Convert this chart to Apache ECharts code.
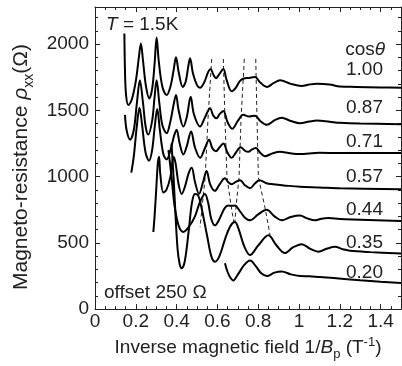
<!DOCTYPE html>
<html>
<head>
<meta charset="utf-8">
<script src="https://cdn.jsdelivr.net/npm/echarts@6/dist/echarts.min.js"></script>
<style>
  html, body { margin: 0; padding: 0; background: #fff; }
  #chart { width: 402px; height: 366px; }
</style>
</head>
<body>
<div id="chart"></div>
<script>
// curves: [1/B (T^-1), rho_xx (ohm)], already offset by 250 ohm steps
const cos100 = [[0.144,2080],[0.147,1800],[0.152,1620],[0.163,1540],[0.18,1580],[0.2,1720],[0.215,1900],[0.225,2005],[0.235,1880],[0.25,1680],[0.266,1590],[0.28,1660],[0.292,1850],[0.302,2050],[0.312,1880],[0.33,1680],[0.351,1615],[0.37,1680],[0.385,1800],[0.397,1900],[0.41,1790],[0.43,1677],[0.445,1720],[0.457,1830],[0.466,1893],[0.48,1780],[0.5,1690],[0.515,1670],[0.535,1710],[0.555,1790],[0.567,1813],[0.58,1770],[0.593,1743],[0.61,1775],[0.629,1813],[0.645,1730],[0.67,1644],[0.69,1670],[0.71,1720],[0.727,1739],[0.756,1745],[0.784,1751],[0.81,1710],[0.842,1677],[0.875,1705],[0.907,1728],[0.96,1700],[1.013,1684],[1.05,1695],[1.087,1701],[1.15,1695],[1.2,1680],[1.28,1677],[1.4,1673],[1.5,1670]];
const cos087 = [[0.147,1466],[0.155,1350],[0.172,1279],[0.19,1350],[0.205,1550],[0.22,1727],[0.235,1560],[0.248,1380],[0.261,1317],[0.28,1420],[0.292,1600],[0.302,1727],[0.315,1560],[0.33,1390],[0.351,1328],[0.37,1420],[0.385,1540],[0.397,1615],[0.41,1500],[0.433,1378],[0.45,1450],[0.469,1602],[0.485,1470],[0.515,1378],[0.54,1450],[0.564,1515],[0.58,1460],[0.596,1440],[0.61,1470],[0.629,1496],[0.65,1410],[0.673,1361],[0.7,1420],[0.727,1466],[0.756,1453],[0.784,1460],[0.81,1420],[0.842,1391],[0.88,1425],[0.915,1444],[0.96,1420],[1.005,1403],[1.05,1415],[1.087,1423],[1.15,1414],[1.2,1406],[1.3,1400],[1.5,1396]];
const cos071 = [[0.178,1030],[0.19,1150],[0.205,1380],[0.218,1520],[0.23,1400],[0.248,1180],[0.265,1120],[0.28,1200],[0.293,1380],[0.305,1510],[0.318,1350],[0.335,1170],[0.351,1129],[0.37,1200],[0.388,1310],[0.4,1354],[0.415,1250],[0.433,1167],[0.45,1230],[0.471,1341],[0.49,1220],[0.515,1142],[0.54,1220],[0.559,1279],[0.575,1215],[0.593,1192],[0.61,1220],[0.629,1249],[0.65,1180],[0.67,1142],[0.69,1180],[0.714,1222],[0.735,1195],[0.752,1187],[0.77,1205],[0.789,1216],[0.81,1180],[0.833,1154],[0.87,1175],[0.907,1187],[0.95,1178],[1.0,1170],[1.1,1180],[1.2,1178],[1.5,1179]];
const cos057 = [[0.286,582],[0.292,700],[0.3,900],[0.308,1100],[0.314,1150],[0.32,1020],[0.335,880],[0.35,900],[0.37,1000],[0.385,1150],[0.395,1100],[0.41,940],[0.425,869],[0.44,920],[0.46,1030],[0.474,1067],[0.49,960],[0.51,870],[0.53,960],[0.547,1042],[0.565,940],[0.588,893],[0.61,940],[0.637,987],[0.655,955],[0.67,943],[0.69,960],[0.711,973],[0.735,935],[0.76,913],[0.785,950],[0.806,973],[0.84,950],[0.874,943],[0.95,930],[1.005,923],[1.1,918],[1.2,912],[1.5,905]];
const cos044 = [[0.36,1200],[0.375,1000],[0.39,780],[0.41,630],[0.433,582],[0.46,620],[0.49,700],[0.515,810],[0.539,869],[0.555,800],[0.57,680],[0.588,632],[0.61,680],[0.635,760],[0.654,781],[0.67,780],[0.686,781],[0.71,740],[0.735,690],[0.76,670],[0.8,715],[0.842,749],[0.88,700],[0.915,670],[0.96,695],[1.005,706],[1.04,685],[1.078,670],[1.11,682],[1.144,687],[1.2,680],[1.3,675],[1.5,664]];
const cos035 = [[0.375,1250],[0.385,1000],[0.395,700],[0.405,450],[0.415,340],[0.425,308],[0.44,360],[0.46,600],[0.475,800],[0.49,869],[0.505,860],[0.52,780],[0.55,550],[0.57,400],[0.588,358],[0.61,400],[0.64,540],[0.665,630],[0.686,657],[0.705,600],[0.73,480],[0.76,408],[0.8,480],[0.85,557],[0.89,480],[0.931,423],[0.97,465],[1.013,490],[1.055,455],[1.095,433],[1.135,455],[1.176,470],[1.215,452],[1.25,440],[1.35,430],[1.5,420]];
const cos020 = [[0.637,346],[0.65,280],[0.665,235],[0.678,216],[0.7,260],[0.73,330],[0.76,366],[0.79,320],[0.815,270],[0.842,250],[0.88,275],[0.915,284],[0.96,262],[1.005,250],[1.05,248],[1.1,242],[1.17,234],[1.3,218],[1.4,207],[1.5,197]];

// dashed guide lines following the peaks
const guide1 = [[0.572,1888],[0.554,1440],[0.540,993],[0.515,619]];
const guide2 = [[0.629,1888],[0.637,1440],[0.647,993],[0.672,731],[0.681,657]];
const guide3 = [[0.732,1888],[0.716,1440],[0.706,993],[0.691,769],[0.686,657]];
const guide4 = [[0.788,1888],[0.794,1440],[0.801,993],[0.833,769],[0.858,560]];

const cosLabels = ['1.00', '0.87', '0.71', '0.57', '0.44', '0.35', '0.20'];
const curves = [cos100, cos087, cos071, cos057, cos044, cos035, cos020];
const guides = [guide1, guide2, guide3, guide4];

const FONT = 'Liberation Sans, Arial, Helvetica, sans-serif';
const FS = 19;
const chart = echarts.init(document.getElementById('chart'));

function xAx(pos, interval, len, labels) {
  return {
    type: 'value', position: pos, min: 0, max: 1.5, interval: interval,
    axisLine: { show: labels !== null, onZero: false, lineStyle: { color: '#222', width: 1 } },
    axisTick: { show: true, inside: true, length: len, lineStyle: { color: '#222' } },
    axisLabel: labels ? { show: true, fontFamily: FONT, fontSize: FS, color: '#222', margin: 3, showMaxLabel: false } : { show: false },
    splitLine: { show: false }
  };
}
function yAx(pos, interval, len, labels) {
  return {
    type: 'value', position: pos, min: 0, max: 2280, interval: interval,
    axisLine: { show: labels !== null, onZero: false, lineStyle: { color: '#222', width: 1 } },
    axisTick: { show: true, inside: true, length: len, lineStyle: { color: '#222' } },
    axisLabel: labels ? { show: true, fontFamily: FONT, fontSize: FS, color: '#222', margin: 6, showMaxLabel: false,
      formatter: v => String(v) } : { show: false },
    splitLine: { show: false }
  };
}

const xBottom = xAx('bottom', 0.2, 5, true);
xBottom.name = 'Inverse magnetic field 1/{i|B}{sub|p} (T{sup|-1})';
xBottom.nameLocation = 'middle';
xBottom.nameGap = 18;
xBottom.nameTextStyle = {
  fontFamily: FONT, fontSize: FS, color: '#222',
  rich: {
    i: { fontFamily: FONT, fontSize: FS, fontStyle: 'italic', color: '#222' },
    sub: { fontFamily: FONT, fontSize: 13, color: '#222', padding: [14, 0, 0, 0] },
    sup: { fontFamily: FONT, fontSize: 13, color: '#222', padding: [0, 0, 10, 0] }
  }
};
const yLeft = yAx('left', 500, 5, true);
yLeft.name = 'Magneto-resistance {i|ρ}{sub|xx}(Ω)';
yLeft.nameLocation = 'middle';
yLeft.nameGap = 57;
yLeft.nameTextStyle = {
  fontFamily: FONT, fontSize: 21, color: '#222', padding: [0, 18, 0, 0],
  rich: {
    i: { fontFamily: FONT, fontSize: 21, fontStyle: 'italic', color: '#222' },
    sub: { fontFamily: FONT, fontSize: 14, color: '#222', padding: [15, 0, 0, 0] }
  }
};

const series = [];
curves.forEach((c, i) => {
  series.push({
    name: cosLabels[i], type: 'line', data: c, smooth: 0.35, showSymbol: false,
    lineStyle: { color: '#000', width: 2 }, z: 3
  });
});
guides.forEach(g => {
  series.push({
    type: 'line', data: g, showSymbol: false, smooth: false,
    lineStyle: { color: '#222', width: 1, type: [4, 3] }, z: 2
  });
});

const labelY = [70, 108, 142, 177, 210, 243, 273];
const graphic = [
  { type: 'text', left: 106, top: 15, style: { text: '{i|T} = 1.5K', font: FS + 'px ' + FONT, fill: '#222',
      rich: { i: { fontStyle: 'italic', fontSize: FS, fontFamily: FONT, fill: '#222' } } } },
  { type: 'text', right: 17, top: 40, style: { text: 'cos{i|θ}', font: FS + 'px ' + FONT, fill: '#222',
      rich: { i: { fontStyle: 'italic', fontSize: FS, fontFamily: FONT, fill: '#222' } } } },
  { type: 'text', left: 104, top: 283, style: { text: 'offset 250 Ω', font: FS + 'px ' + FONT, fill: '#222' } }
];
cosLabels.forEach((t, i) => {
  graphic.push({ type: 'text', right: 19, top: labelY[i] - 10, style: { text: t, font: FS + 'px ' + FONT, fill: '#222' } });
});

chart.setOption({
  animation: false,
  backgroundColor: '#fff',
  grid: { left: 95, right: 1, top: 7, bottom: 53 },
  xAxis: [xBottom, xAx('bottom', 0.05, 3, null), xAx('top', 0.2, 5, false), xAx('top', 0.05, 3, null)],
  yAxis: [yLeft, yAx('left', 100, 3, null), yAx('right', 500, 5, false), yAx('right', 100, 3, null)],
  series: series,
  graphic: graphic
});
</script>
</body>
</html>
